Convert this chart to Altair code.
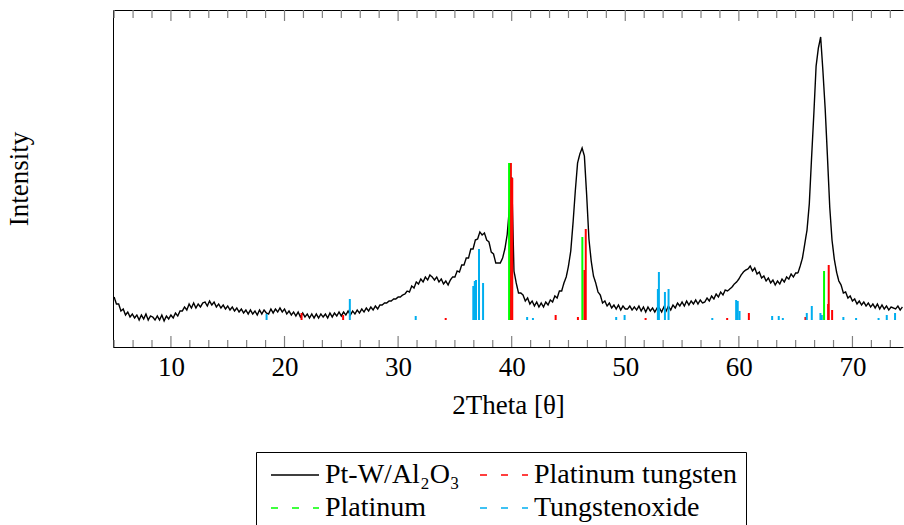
import altair as alt
import pandas as pd

# ---- measured diffractogram (2theta grid start/step, intensity in a.u.) ----
START = 5.0
STEP = 0.2
INTENSITY = [
    50, 43, 43, 36, 38, 32, 35, 30, 33, 29,
    32, 27, 32, 28, 33, 27, 31, 30, 27, 31,
    27, 32, 26, 31, 28, 32, 29, 34, 31, 36,
    36, 40, 37, 43, 39, 44, 39, 43, 40, 44,
    45, 41, 46, 42, 45, 40, 43, 39, 42, 38,
    41, 37, 40, 36, 39, 35, 38, 34, 37, 33,
    37, 33, 36, 32, 37, 33, 37, 34, 33, 38,
    34, 38, 35, 39, 35, 38, 33, 36, 32, 35,
    31, 35, 30, 34, 30, 33, 29, 33, 29, 33,
    29, 33, 30, 33, 29, 34, 30, 34, 31, 35,
    31, 35, 32, 36, 32, 36, 33, 37, 34, 38,
    35, 39, 36, 40, 37, 41, 38, 42, 42, 44,
    44, 46, 46, 48, 48, 50, 50, 52, 53, 56,
    55, 61, 59, 65, 63, 68, 65, 70, 67, 72,
    70, 67, 70, 65, 68, 63, 66, 62, 67, 70,
    70, 76, 75, 82, 82, 89, 89, 98, 98, 107,
    108, 115, 112, 114, 107, 105, 95, 93, 84, 84,
    84, 89, 98, 112, 139, 170, 76, 64, 54, 54,
    52, 46, 49, 43, 46, 41, 45, 40, 44, 40,
    45, 42, 47, 45, 51, 49, 56, 56, 64, 70,
    81, 96, 124, 156, 184, 193, 199, 191, 152, 108,
    86, 71, 64, 55, 52, 44, 46, 41, 44, 39,
    42, 38, 42, 37, 41, 38, 38, 41, 37, 40,
    37, 41, 36, 40, 35, 40, 36, 39, 35, 39,
    39, 35, 40, 36, 41, 37, 42, 39, 44, 41,
    45, 41, 46, 42, 46, 43, 47, 43, 47, 44,
    45, 49, 46, 51, 48, 53, 50, 55, 52, 57,
    56, 58, 60, 63, 65, 68, 72, 75, 77, 78,
    81, 76, 79, 73, 75, 69, 71, 66, 69, 64,
    67, 62, 66, 63, 68, 65, 70, 68, 73, 70,
    74, 74, 81, 89, 103, 117, 143, 189, 233, 281,
    299, 310, 276, 238, 190, 140, 107, 88, 75, 66,
    62, 54, 55, 49, 51, 46, 48, 43, 46, 42,
    45, 41, 44, 40, 43, 39, 43, 38, 42, 38,
    41, 37, 40, 39, 38, 41, 37, 40,
]
TWO_THETA = [round(START + STEP * i, 2) for i in range(len(INTENSITY))]

# ---- reference patterns (stick positions and tops) ----
STICK_BASE = 27
PTW_THETA = [21.5, 25.16, 34.19, 39.93, 40.05, 43.87, 45.83, 46.40, 46.52, 51.79,
             58.97, 60.88, 65.86, 67.86, 67.91, 68.21]
PTW_INT = [34, 32, 29, 184, 169, 32, 30, 77, 118, 29,
           29, 34, 30, 43, 82, 37]
PT_THETA = [39.77, 46.22, 67.50]
PT_INT = [184, 110, 76]
WO_THETA = [18.42, 25.75, 31.55, 36.62, 36.75, 36.86, 37.12, 37.48, 41.36, 41.87,
            49.20, 49.94, 52.87, 52.96, 53.49, 53.81, 57.66, 59.76, 59.90, 60.06,
            62.93, 63.51, 63.87, 65.98, 66.42, 67.18, 67.30, 69.20, 70.32, 72.30,
            73.02, 73.75]
WO_INT = [33, 48, 31, 61, 66, 67, 98, 64, 30, 29,
          30, 32, 58, 75, 55, 58, 29, 47, 46, 36,
          31, 31, 29, 34, 41, 34, 32, 30, 29, 29,
          32, 34]

SERIES = ["Pt-W/Al\u2082O\u2083", "Platinum tungsten", "Platinum", "Tungstenoxide"]
COLORS = ["#000000", "#ff0000", "#00ff00", "#00aeef"]
DASHES = [[1, 0], [7, 14], [7, 14], [7, 14]]

MAJOR = [10, 20, 30, 40, 50, 60, 70]
MINOR = [round(m + k * 10 / 6, 3) for m in [0] + MAJOR for k in range(1, 6)
         if 4.9 < m + k * 10 / 6 < 74.45]

FONT = "Liberation Serif, DejaVu Serif, serif"
PLOT_W, PLOT_H = 790, 337
Y_MAX = 337
TICK_COLOR = "#808080"
x_scale = alt.Scale(domain=[4.9, 74.45], nice=False, zero=False)
y_scale = alt.Scale(domain=[0, Y_MAX], nice=False, zero=False)

legend = alt.Legend(
    title=None, orient="none", legendX=143, legendY=442, columns=2,
    direction="horizontal",
    symbolType="M-3,0L3,0", symbolSize=256, symbolStrokeWidth=1.3,
    symbolOffset=16,
    labelFont=FONT, labelFontSize=28, labelColor="black", labelOffset=16,
    labelLimit=400, columnPadding=14, rowPadding=5, padding=9,
    strokeColor="black", fillColor="white", cornerRadius=0,
)

main_x_axis = alt.Axis(
    orient="bottom", title="2Theta [\u03b8]", values=MAJOR, format="d",
    ticks=False, tickSize=0, labelPadding=7, labelFontSize=27, labelFont=FONT,
    labelColor="black", titleFontSize=27, titleFont=FONT, titleFontWeight="normal",
    titleColor="black", titlePadding=12, domainColor="black", domainWidth=1,
    grid=False, labelFlush=False,
)
top_domain_axis = alt.Axis(orient="top", title=None, labels=False, ticks=False,
                           domainColor="black", grid=False)

y_axis = alt.Axis(title="Intensity", labels=False, ticks=False, grid=False,
                  domainColor="black", titleFontSize=27, titleFont=FONT,
                  titleFontWeight="normal", titleColor="black", titlePadding=80)

curve_df = pd.DataFrame({"theta": TWO_THETA, "I": INTENSITY, "series": SERIES[0]})
curve = alt.Chart(curve_df).mark_line(strokeWidth=1.4, clip=True).encode(
    x=alt.X("theta:Q", scale=x_scale, axis=main_x_axis),
    y=alt.Y("I:Q", scale=y_scale, axis=y_axis),
    color=alt.Color("series:N", scale=alt.Scale(domain=SERIES, range=COLORS), legend=legend),
    strokeDash=alt.StrokeDash("series:N", scale=alt.Scale(domain=SERIES, range=DASHES), legend=legend),
)


def sticks(th, it, color, axis):
    df = pd.DataFrame({"theta": th, "top": it, "base": [STICK_BASE] * len(th)})
    return alt.Chart(df).mark_rule(strokeWidth=2, color=color, clip=True).encode(
        x=alt.X("theta:Q", scale=x_scale, axis=axis),
        y=alt.Y("top:Q", scale=y_scale, axis=None),
        y2="base:Q",
    )


red = sticks(PTW_THETA, PTW_INT, COLORS[1], top_domain_axis)
green = sticks(PT_THETA, PT_INT, COLORS[2], None)
cyan = sticks(WO_THETA, WO_INT, COLORS[3], None)

# axis decoration: inward-pointing tick marks along top and bottom frame (y-scale units)
tick_rows = []
for vals, lo, hi in [(MAJOR, Y_MAX - 11, Y_MAX), (MINOR, Y_MAX - 8, Y_MAX),
                     (MAJOR, 0, 11), (MINOR, 0, 7)]:
    tick_rows += [{"v": v, "lo": lo, "hi": hi} for v in vals]
ticks = alt.Chart(pd.DataFrame(tick_rows)).mark_rule(color=TICK_COLOR, strokeWidth=1.2).encode(
    x=alt.X("v:Q", scale=x_scale, axis=None),
    y=alt.Y("lo:Q", scale=y_scale, axis=None),
    y2="hi:Q",
)

chart = alt.layer(curve, red, green, cyan, ticks).resolve_axis(
    x="independent", y="independent"
).properties(
    width=PLOT_W, height=PLOT_H,
    autosize=alt.AutoSizeParams(type="none"),
    padding={"left": 113, "top": 10, "right": 1, "bottom": 178},
).configure(font=FONT).configure_view(stroke=None)

chart.save("out.html", embed_options={"renderer": "svg", "actions": False})
